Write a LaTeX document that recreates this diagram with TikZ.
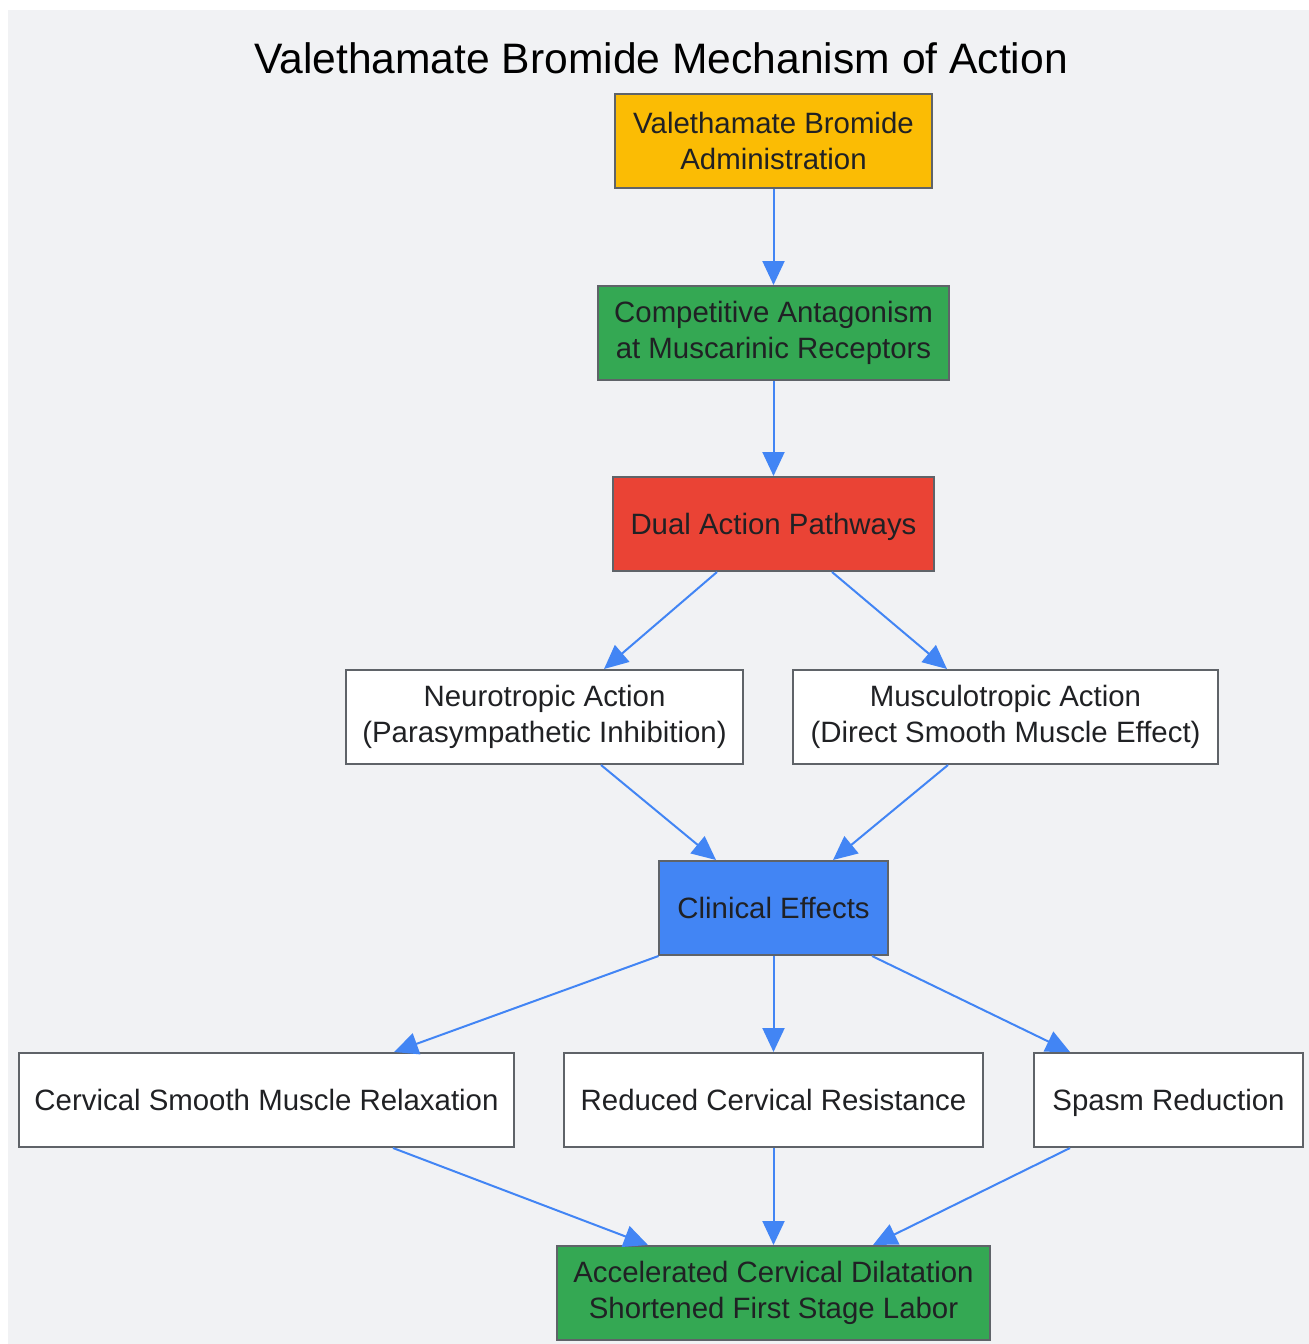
\documentclass[tikz,border=0pt]{standalone}
\usepackage{fontspec}
\setmainfont{Liberation Sans}
\usetikzlibrary{arrows.meta,positioning}
\definecolor{bgc}{HTML}{F1F2F4}
\definecolor{gyellow}{HTML}{FBBC04}
\definecolor{ggreen}{HTML}{34A853}
\definecolor{gred}{HTML}{EA4335}
\definecolor{gblue}{HTML}{4285F4}
\definecolor{gborder}{HTML}{5F6368}
\definecolor{gtext}{HTML}{202124}
\tikzset{>={Triangle[length=24pt,width=22pt]}}
\tikzset{box/.style={draw=gborder, line width=2pt, text=gtext, align=center, minimum height=94pt, inner sep=0pt, font=\fontsize{29.4}{36}\selectfont}}
\tikzset{single/.style={text height=21pt, text depth=0pt}}
\tikzset{flow/.style={->, draw=gblue, line width=2pt}}

\begin{document}
\begin{tikzpicture}[x=1pt,y=-1pt]
      \fill[bgc] (8,10) rectangle (1309,1344);
      \useasboundingbox (0,0) rectangle (1309,1344);
      \node[font=\fontsize{42.6}{48}\selectfont] (title) at (661,58) {Valethamate Bromide Mechanism of Action};
      % boxes
      \node[box, fill=gyellow, minimum width=317pt] (admin) at (773.5,140.5) {Valethamate Bromide\\Administration};
      \node[box, fill=ggreen, minimum width=351pt] (antag) at (773.5,333) {Competitive Antagonism\\at Muscarinic Receptors};
      \node[box, single, fill=gred, minimum width=321pt] (dual) at (773.5,524) {Dual Action Pathways};
      \node[box, fill=white, minimum width=397pt] (neuro) at (544.5,717) {Neurotropic Action\\(Parasympathetic Inhibition)};
      \node[box, fill=white, minimum width=425pt] (musc) at (1005.5,717) {Musculotropic Action\\(Direct Smooth Muscle Effect)};
      \node[box, single, fill=gblue, minimum width=229pt] (clin) at (773.5,908) {Clinical Effects};
      \node[box, single, fill=white, minimum width=495pt] (cerv) at (266.5,1100) {Cervical Smooth Muscle Relaxation};
      \node[box, single, fill=white, minimum width=419pt] (resist) at (773.5,1100) {Reduced Cervical Resistance};
      \node[box, single, fill=white, minimum width=269pt] (spasm) at (1168.5,1100) {Spasm Reduction};
      \node[box, fill=ggreen, minimum width=433pt] (dilat) at (773.5,1293) {Accelerated Cervical Dilatation\\Shortened First Stage Labor};
      % connectors
      \draw[flow] (admin.south) -- (antag.north);
      \draw[flow] (antag.south) -- (dual.north);
      \draw[flow] ([xshift=-56.5pt]dual.south) -- ([xshift=59.5pt]neuro.north);
      \draw[flow] ([xshift=58.5pt]dual.south) -- ([xshift=-58.5pt]musc.north);
      \draw[flow] ([xshift=56.5pt]neuro.south) -- ([xshift=-57.5pt]clin.north);
      \draw[flow] ([xshift=-57.5pt]musc.south) -- ([xshift=59.5pt]clin.north);
      \draw[flow] ([xshift=-115pt]clin.south) -- ([xshift=127.5pt]cerv.north);
      \draw[flow] (clin.south) -- (resist.north);
      \draw[flow] ([xshift=98.5pt]clin.south) -- ([xshift=-98.5pt]spasm.north);
      \draw[flow] ([xshift=126.5pt]cerv.south) -- ([xshift=-125.5pt]dilat.north);
      \draw[flow] (resist.south) -- (dilat.north);
      \draw[flow] ([xshift=-98.5pt]spasm.south) -- ([xshift=99.5pt]dilat.north);
    \end{tikzpicture}
\end{document}
